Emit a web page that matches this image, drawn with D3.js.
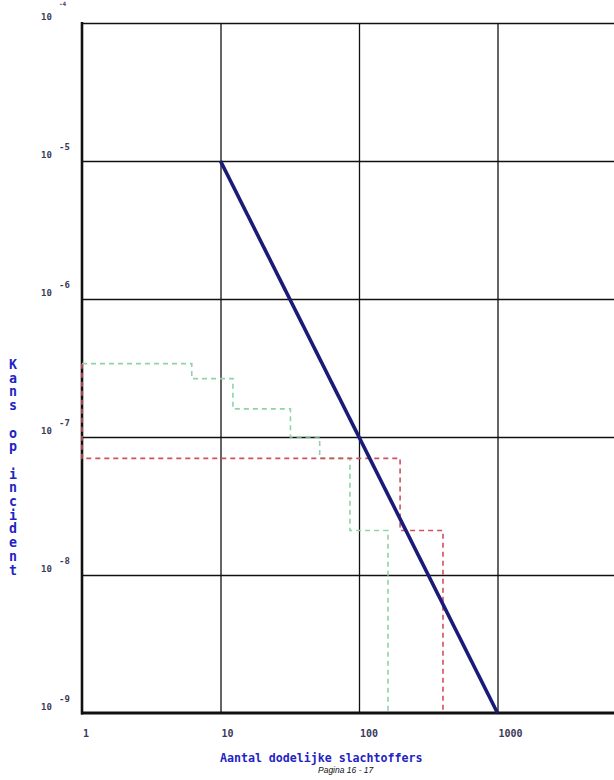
<!DOCTYPE html>
<html>
<head>
<meta charset="utf-8">
<script src="https://cdn.jsdelivr.net/npm/d3@7"></script>
<style>
html,body{margin:0;padding:0;background:#fff;}
svg{display:block;}
</style>
</head>
<body>
<svg id="chart" width="614" height="780"></svg>
<script>
// ---- data ----
const xTicks = [1, 10, 100, 1000];
const xTickLabels = ["1", "10", "100", "1000"];
const yTicks = [1e-4, 1e-5, 1e-6, 1e-7, 1e-8, 1e-9];
const yTickExp = ["-4", "-5", "-6", "-7", "-8", "-9"];
const blueN = [10, 1000];
const blueP = [1e-5, 1e-9];
const greenN = [1, 6.2, 12.3, 32, 52, 86, 162];
const greenP = [3.4e-7, 2.65e-7, 1.6e-7, 1.0e-7, 7e-8, 2.1e-8, 1e-9];
const redN = [1, 1, 198, 404];
const redP = [3.4e-7, 7e-8, 2.1e-8, 1e-9];
const xTitle = "Aantal dodelijke slachtoffers";
const yTitle = "Kans op incident";
const footer = "Pagina 16 - 17";

// ---- layout ----
const svg = d3.select("#chart");
const x = d3.scaleLog().domain([1, 10000]).range([82, 636]);
const y = d3.scaleLog().domain([1e-9, 1e-4]).range([713, 23]);

// grid via axes
const gx = svg.append("g").attr("transform", `translate(0,${y(1e-9)})`)
  .call(d3.axisBottom(x).tickValues([10, 100, 1000]).tickSize(-(y(1e-9) - y(1e-4))).tickFormat(""));
gx.select(".domain").remove();
gx.selectAll("line").attr("stroke", "#111").attr("stroke-width", 1.3);

const gy = svg.append("g").attr("transform", `translate(${x(1)},0)`)
  .call(d3.axisRight(y).tickValues([1e-4, 1e-5, 1e-6, 1e-7, 1e-8]).tickSize(x(10000) - x(1)).tickFormat(""));
gy.select(".domain").remove();
gy.selectAll("line").attr("stroke", "#111").attr("stroke-width", 1.3);

// frame axes
svg.append("line").attr("x1", x(1)).attr("x2", x(1)).attr("y1", y(1e-4) - 1).attr("y2", y(1e-9) + 1.5)
  .attr("stroke", "#111").attr("stroke-width", 2.6);
svg.append("line").attr("x1", x(1) - 1).attr("x2", x(10000)).attr("y1", y(1e-9)).attr("y2", y(1e-9))
  .attr("stroke", "#111").attr("stroke-width", 3);

// series
const line = d3.line().x(d => x(d[0])).y(d => y(d[1]));
const step = d3.line().x(d => x(d[0])).y(d => y(d[1])).curve(d3.curveStepAfter);

svg.append("path").datum(greenN.map((n, i) => [n, greenP[i]]))
  .attr("d", step).attr("fill", "none").attr("stroke", "#8fd3a6").attr("stroke-width", 1.6)
  .attr("stroke-dasharray", "5,4");
svg.append("path").datum(redN.map((n, i) => [n, redP[i]]))
  .attr("d", step).attr("fill", "none").attr("stroke", "#d0505e").attr("stroke-width", 1.6)
  .attr("stroke-dasharray", "5,4");
svg.append("path").datum(blueN.map((n, i) => [n, blueP[i]]))
  .attr("d", line).attr("fill", "none").attr("stroke", "#1a1a78").attr("stroke-width", 3.6);

// y tick labels
const mono = "'DejaVu Sans Mono', 'Liberation Mono', monospace";
const yl = svg.append("g").attr("font-family", mono).attr("font-weight", "bold").attr("fill", "#3a3a5c");
yTicks.forEach((v, i) => {
  yl.append("text").attr("x", 41).attr("y", y(v) - 3).attr("font-size", 9).text("10");
  if (i > 0) yl.append("text").attr("x", 59).attr("y", y(v) - 11).attr("font-size", 9).text(yTickExp[i]);
});
// top exponent is clipped by the picture's upper edge in the reference
svg.append("text").attr("x", 59).attr("y", 6).attr("font-family", mono).attr("font-weight", "bold")
  .attr("font-size", 6).attr("fill", "#3a3a5c").text(yTickExp[0]);

// x tick labels
const xl = svg.append("g").attr("font-family", mono).attr("font-weight", "bold").attr("fill", "#3a3a5c").attr("font-size", 10);
xTicks.forEach((v, i) => {
  xl.append("text").attr("x", x(v) + 1).attr("y", 737).text(xTickLabels[i]);
});

// titles
svg.append("text").attr("x", 220).attr("y", 762).attr("font-family", mono).attr("font-weight", "bold")
  .attr("font-size", 11.6).attr("fill", "#2323c4").text(xTitle);

svg.append("text").attr("x", 13).attr("y", 357)
  .attr("font-family", mono).attr("font-weight", "bold")
  .attr("font-size", 13.3).attr("fill", "#2323c4")
  .attr("letter-spacing", -1.3)
  .style("writing-mode", "vertical-lr").style("text-orientation", "upright")
  .text(yTitle);

svg.append("text").attr("x", 318).attr("y", 773).attr("font-family", "'Liberation Sans', Arial, sans-serif")
  .attr("font-style", "italic").attr("font-size", 8.5).attr("fill", "#111").text(footer);
</script>
</body>
</html>
